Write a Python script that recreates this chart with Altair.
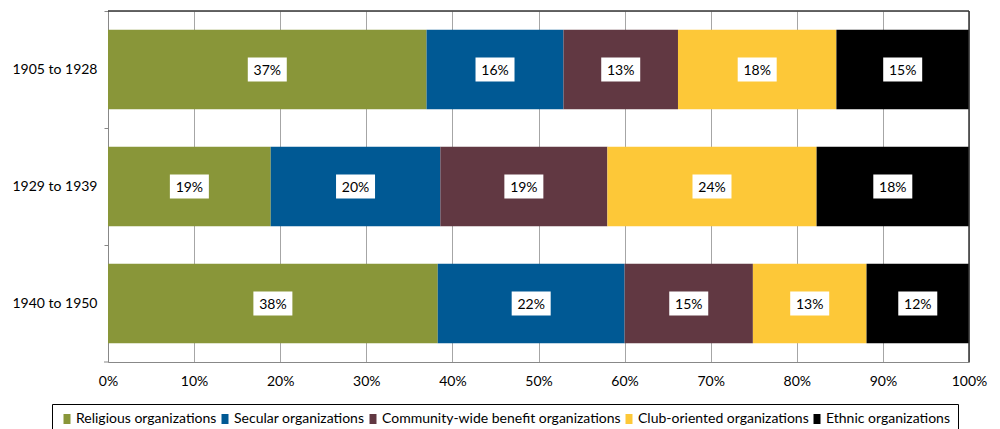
import altair as alt
import pandas as pd

periods = ["1905 to 1928", "1929 to 1939", "1940 to 1950"]
types = ["Religious organizations", "Secular organizations",
         "Community-wide benefit organizations", "Club-oriented organizations",
         "Ethnic organizations"]
colors = ["#899639", "#005994", "#613842", "#FDC838", "#000000"]
share_1905 = [0.370, 0.159, 0.133, 0.184, 0.154]
share_1929 = [0.189, 0.197, 0.194, 0.243, 0.177]
share_1940 = [0.383, 0.217, 0.149, 0.132, 0.119]
x_ticks = [0, 0.1, 0.2, 0.3, 0.4, 0.5, 0.6, 0.7, 0.8, 0.9, 1.0]

rows = []
for p, vals in zip(periods, [share_1905, share_1929, share_1940]):
    for i, (t, v) in enumerate(zip(types, vals)):
        rows.append({"period": p, "type": t, "ord": i, "value": v})
df = pd.DataFrame(rows)

FONT = "Lato"
W, H = 861, 351

y_enc = alt.Y("period:N", sort=periods, title=None,
              scale=alt.Scale(paddingInner=0, paddingOuter=0),
              axis=alt.Axis(bandPosition=0, tickSize=4, tickColor="#888888",
                            domainColor="#888888", labelPadding=7,
                            labelFont=FONT, labelFontSize=14, labelColor="#000000",
                            grid=False))

base = alt.Chart(df)

bars = base.mark_bar(height=alt.RelativeBandSize(0.68)).encode(
    x=alt.X("value:Q", stack="zero", title=None,
            scale=alt.Scale(domain=[0, 1], nice=False),
            axis=alt.Axis(values=x_ticks, format=".0%", ticks=False,
                          domainColor="#888888", gridColor="#A6A6A6",
                          labelFlush=False,
                          labelPadding=12, labelFont=FONT, labelFontSize=14,
                          labelColor="#000000")),
    y=y_enc,
    color=alt.Color("type:N", sort=types,
                    scale=alt.Scale(domain=types, range=colors),
                    legend=alt.Legend(title=None, orient="none", direction="horizontal",
                                      legendX=-56, legendY=393, columns=5,
                                      labelFont=FONT, labelFontSize=14,
                                      labelColor="#000000", labelLimit=400,
                                      symbolType="M-0.7,-1L0.7,-1L0.7,1L-0.7,1Z",
                                      symbolSize=100, symbolStrokeWidth=0,
                                      symbolOffset=0, labelOffset=2,
                                      columnPadding=1, padding=8,
                                      strokeColor="#000000", fillColor="#FFFFFF")),
    order=alt.Order("ord:Q"),
)

lab = base.transform_window(
    cum="sum(value)", sort=[alt.SortField("ord")], groupby=["period"],
    frame=[None, 0]
).transform_calculate(
    mid="datum.cum - datum.value / 2"
)

boxes = lab.mark_point(
    shape="M-1,-0.615L1,-0.615L1,0.615L-1,0.615Z", filled=True,
    fill="#FFFFFF", opacity=1, strokeWidth=0, size=1521
).encode(x=alt.X("mid:Q"), y=alt.Y("period:N", sort=periods))

texts = lab.mark_text(font=FONT, fontSize=14, color="#000000",
                      baseline="middle", align="center", dy=1).encode(
    x=alt.X("mid:Q"), y=alt.Y("period:N", sort=periods),
    text=alt.Text("value:Q", format=".0%"))

one = alt.Chart(pd.DataFrame({"a": [0]}))
top_border = one.mark_rule(color="#333333", strokeWidth=1.5).encode(
    x=alt.value(0), x2=alt.value(W), y=alt.value(0))
right_border = one.mark_rule(color="#333333", strokeWidth=1.5).encode(
    x=alt.value(W), y=alt.value(0), y2=alt.value(H))
bottom_tick = one.mark_rule(color="#888888").encode(
    x=alt.value(-4), x2=alt.value(0), y=alt.value(H))

chart = alt.layer(bars, boxes, texts, top_border, right_border, bottom_tick).properties(
    width=W, height=H,
    autosize=alt.AutoSizeParams(type="none"),
    padding={"left": 100, "top": 3, "right": 23, "bottom": 70},
).configure_view(stroke=None).configure(background="#FFFFFF")

chart.save("out.html", embed_options={"renderer": "svg", "actions": False})
